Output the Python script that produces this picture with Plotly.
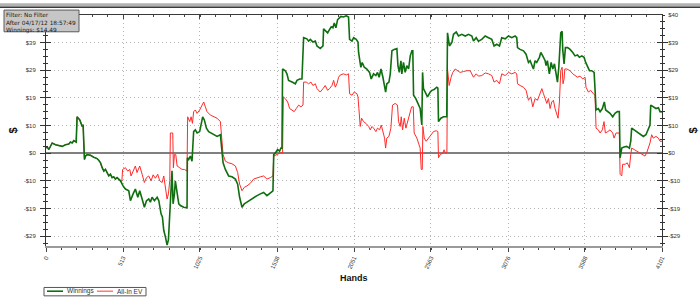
import plotly.graph_objects as go

# ---------------- data ----------------
win_hands = [0, 8, 19, 41, 63, 85, 108, 130, 152, 163, 174, 185, 201, 207, 225, 241, 247, 256, 263, 274,
             296, 318, 340, 351, 363, 374, 385, 396, 407, 418, 429, 440, 451, 462, 473, 496, 513, 529, 551, 562,
             580, 595, 611, 624, 640, 655, 669, 684, 695, 706, 722, 740, 751, 766, 775, 784, 795, 806, 815, 824,
             833, 839, 846, 855, 861, 873, 884, 895, 917, 939, 941, 950, 961, 972, 983, 994, 1006, 1023, 1034, 1043,
             1054, 1068, 1083, 1099, 1116, 1139, 1161, 1172, 1179, 1194, 1216, 1238, 1261, 1276, 1289, 1305, 1320, 1338, 1360, 1382,
             1405, 1427, 1449, 1471, 1493, 1511, 1516, 1527, 1542, 1555, 1564, 1571,
             1575, 1593, 1604, 1615, 1638, 1660, 1671, 1689, 1704, 1715, 1737, 1748, 1760, 1777, 1793, 1804, 1826, 1844, 1848, 1866,
             1875, 1888, 1899, 1910, 1919, 1930, 1941, 1952, 1963, 1981, 1999, 2014, 2021, 2037, 2048, 2065, 2077, 2081, 2088, 2096,
             2105, 2119, 2136, 2154, 2165, 2181, 2196, 2207, 2218, 2230, 2243, 2252, 2261, 2269, 2283, 2292, 2303, 2318, 2336, 2343,
             2352, 2363, 2369, 2380, 2391, 2402, 2414, 2425, 2436, 2442, 2447, 2462, 2480, 2491, 2502, 2507, 2513, 2524, 2540, 2558,
             2569, 2584, 2602, 2609, 2613, 2629, 2646, 2668,
             2673, 2686, 2702, 2713, 2731, 2746, 2768, 2791, 2813, 2835, 2846, 2864, 2879, 2901, 2924, 2946, 2968, 2983, 3001, 3019,
             3034, 3057, 3079, 3101, 3123, 3134, 3139, 3156, 3179, 3196, 3212, 3223, 3234, 3245, 3256, 3267, 3285, 3294, 3307, 3323,
             3329, 3338, 3351, 3363, 3374, 3385, 3396, 3405, 3414, 3427, 3436, 3440, 3449, 3458, 3473, 3489, 3507, 3522, 3538, 3551,
             3567, 3582, 3593, 3604, 3618, 3633, 3649, 3655, 3662, 3677, 3689, 3704, 3717, 3726, 3740, 3755, 3773, 3788, 3804, 3817,
             3822, 3833, 3848, 3866, 3884, 3893, 3899, 3915, 3932, 3955, 3977, 3994, 4010, 4021, 4026, 4043, 4061, 4077, 4088, 4101]
win_values = [1.9, 2.2, 1.3, 3.6, 3.0, 2.6, 2.4, 3.0, 3.2, 3.9, 3.6, 4.4, 3.9, 12.8, 11.7, 9.4, 10.0, -2.2, -1.0, -0.5,
              -0.7, -1.4, -1.9, -2.5, -3.4, -5.1, -6.3, -5.7, -6.8, -8.0, -7.4, -8.6, -8.3, -9.1, -8.6, -9.7, -11.5, -12.6, -13.2, -16.7,
              -14.3, -12.6, -15.5, -13.2, -16.1, -19.0, -16.7, -16.1, -17.2, -15.5, -16.7, -15.5, -16.7, -21.3, -22.4, -27.1, -29.4, -32.3, -30.5, -21.3,
              -9.7, -6.2, -17.8, -14.3, -9.7, -13.2, -17.8, -18.4, -19.0, -19.2, -1.6, -2.2, -1.0, -2.8, 7.6, 8.2, 7.1, 7.6, 9.9, 12.8,
              11.7, 8.8, 7.6, 7.1, 6.5, 5.9, 6.5, 0.7, -3.4, -5.7, -8.0, -8.3, -9.1, -10.9, -15.5, -19.0, -17.8, -17.2, -16.4, -15.5,
              -14.9, -14.3, -13.8, -14.9, -13.8, -13.2, -0.5, 0.1, 1.3, 0.7, 1.8, 1.8,
              29.6, 29.0, 27.9, 25.6, 25.0, 24.4, 25.6, 26.1, 26.1, 40.6, 40.2, 39.4, 40.0, 39.1, 39.4, 37.7, 36.8, 37.7, 43.7, 42.9,
              42.3, 43.5, 44.4, 44.1, 45.8, 44.1, 46.9, 47.5, 48.1, 47.9, 48.3, 47.9, 40.0, 39.4, 40.6, 40.0, 39.1, 35.4, 33.1, 30.2,
              31.9, 30.2, 29.6, 28.4, 26.1, 27.9, 27.3, 28.4, 26.7, 29.6, 26.7, 24.4, 21.5, 24.4, 25.0, 27.9, 36.0, 36.5, 36.8, 30.8,
              28.4, 32.5, 27.9, 31.9, 28.4, 30.8, 29.6, 34.2, 36.0, 36.0, 20.4, 19.2, 16.9, 15.7, 9.9, 28.4, 22.7, 21.5, 19.8, 21.5,
              22.1, 22.4, 23.2, 22.9, 11.1, 12.3, 12.8, 12.8,
              42.3, 37.7, 38.9, 41.8, 42.6, 41.2, 41.8, 41.2, 41.8, 41.2, 39.4, 40.6, 39.4, 40.0, 41.2, 40.6, 40.0, 37.7, 38.3, 37.7,
              40.6, 40.2, 41.2, 40.6, 41.2, 40.6, 37.1, 36.5, 36.0, 34.8, 31.9, 32.5, 30.8, 29.6, 32.5, 31.9, 33.7, 35.4, 34.2, 32.5,
              30.8, 32.5, 27.9, 31.9, 29.6, 31.4, 27.9, 25.0, 30.2, 42.3, 42.9, 36.5, 31.4, 37.1, 37.1, 36.5, 35.4, 34.2, 34.5, 33.7,
              34.2, 33.7, 31.9, 30.8, 29.0, 29.0, 28.4, 22.7, 15.2, 15.7, 14.6, 15.7, 18.0, 15.2, 14.6, 14.0, 12.8, 14.0, 14.6, 14.6,
              -1.6, 1.8, 2.2, 2.4, 1.8, 4.2, 8.8, 8.2, 7.6, 6.5, 5.9, 6.5, 8.2, 9.9, 16.9, 16.3, 15.7, 16.0, 14.6, 14.49]

ev_hands = [0, 8, 19, 41, 63, 85, 108, 130, 152, 163, 174, 185, 201, 207, 225, 241, 247, 256, 263, 274,
            296, 318, 340, 351, 363, 374, 385, 396, 407, 418, 429, 440, 451, 462, 473, 496, 505, 510, 529, 544,
            558, 566, 580, 595, 606, 624, 640, 655, 669, 684, 700, 713, 728, 744, 757, 773, 784, 795, 806, 815,
            824, 828, 844, 848, 855, 864, 873, 890, 906, 921, 939, 943, 957, 966, 975, 983, 994, 1006, 1023, 1039,
            1050, 1061, 1072, 1094, 1116, 1139, 1161, 1172, 1179, 1194, 1216, 1238, 1261, 1276, 1289, 1305, 1320, 1338, 1360, 1382,
            1405, 1427, 1449, 1471, 1493, 1511, 1516, 1538, 1560, 1575, 1580, 1593, 1609, 1622, 1638, 1653, 1666, 1682, 1697, 1711,
            1715, 1733, 1748, 1764, 1777, 1793, 1804, 1826, 1844, 1859, 1875, 1888, 1904, 1915, 1926, 1937, 1948, 1959, 1981, 1999,
            2014, 2021, 2037, 2052, 2070, 2077, 2083, 2092, 2101, 2114, 2130, 2148, 2159, 2170, 2181, 2196, 2207, 2221, 2232, 2243,
            2254, 2261, 2269, 2283, 2296, 2307, 2325, 2340, 2347, 2358, 2365, 2374, 2385, 2396, 2407, 2420, 2434, 2445, 2451, 2469,
            2482, 2491, 2498, 2505, 2509, 2518, 2531, 2547, 2562, 2580, 2598, 2609, 2613, 2624, 2642, 2650, 2658, 2669,
            2673, 2684, 2697, 2708, 2724, 2740, 2757, 2779, 2802, 2824, 2846, 2864, 2879, 2901, 2924, 2946, 2968, 2983, 3001, 3019,
            3034, 3057, 3079, 3101, 3123, 3134, 3139, 3156, 3179, 3196, 3212, 3227, 3241, 3256, 3272, 3285, 3301, 3312, 3323, 3334,
            3345, 3356, 3367, 3378, 3389, 3400, 3409, 3418, 3427, 3436, 3442, 3449, 3454, 3467, 3489, 3507, 3522, 3538, 3555, 3573,
            3589, 3595, 3611, 3626, 3644, 3655, 3662, 3677, 3689, 3704, 3715, 3724, 3740, 3755, 3773, 3782, 3795, 3817, 3822, 3833,
            3839, 3855, 3870, 3884, 3893, 3899, 3915, 3932, 3955, 3972, 3988, 3999, 4010, 4021, 4032, 4043, 4061, 4077, 4088, 4101]
ev_values = [1.9, 2.2, 1.3, 3.6, 3.0, 2.6, 2.4, 3.0, 3.2, 3.9, 3.6, 4.4, 3.9, 12.8, 11.7, 9.4, 10.0, -2.2, -1.0, -0.5,
             -0.7, -1.4, -1.9, -2.5, -3.4, -5.1, -6.3, -5.7, -6.8, -8.0, -7.4, -8.6, -8.3, -9.1, -8.6, -9.7, -9.9, -5.7, -5.1, -6.3,
             -5.7, -8.0, -6.3, -4.5, -6.8, -4.5, -7.4, -10.3, -8.6, -8.0, -9.7, -7.6, -8.8, -7.4, -9.7, -10.3, -8.0, -13.2, -16.1, -14.3,
             -9.7, 7.1, 7.1, -5.1, -0.5, -0.5, -4.5, -5.1, -5.7, -5.7, -6.3, 12.8, 11.1, 12.8, 10.5, 14.6, 15.2, 14.0, 15.2, 16.9,
             18.0, 16.3, 14.6, 13.4, 12.8, 12.3, 11.1, 4.2, -0.5, -2.8, -3.4, -3.7, -4.5, -6.8, -10.9, -13.2, -12.0, -11.5, -10.6, -9.1,
             -8.6, -8.3, -8.0, -9.1, -8.6, -8.0, -1.0, -0.5, 0.1, 0.1, 19.8, 19.2, 18.0, 15.7, 15.2, 14.6, 15.7, 16.9, 16.3, 16.9,
             25.0, 25.0, 24.4, 25.0, 23.8, 24.4, 22.7, 21.5, 22.7, 23.8, 22.1, 22.7, 23.8, 25.6, 23.2, 24.4, 26.7, 27.5, 27.9, 27.5,
             27.9, 20.9, 20.4, 21.5, 20.9, 19.8, 15.7, 9.4, 12.3, 11.1, 10.5, 9.4, 8.2, 9.4, 8.8, 7.6, 8.8, 8.2, 9.9, 7.1,
             5.3, 1.8, 5.3, 5.9, 8.8, 16.9, 17.5, 16.9, 11.1, 9.4, 12.8, 8.2, 12.3, 8.8, 11.1, 13.4, 16.3, 16.3, 7.1, 5.3,
             3.0, 1.8, -5.7, -5.7, 9.4, 5.3, 4.2, 5.3, 6.5, 7.6, 7.9, 7.6, -1.6, -0.5, 0.1, 1.2, 0.1, 0.1,
             29.6, 23.8, 26.7, 28.4, 29.6, 29.0, 28.4, 28.7, 29.0, 29.0, 26.7, 27.9, 27.1, 27.3, 28.2, 27.9, 27.3, 25.0, 25.6, 24.4,
             27.9, 27.3, 28.4, 27.9, 28.4, 27.9, 24.4, 23.8, 23.2, 22.1, 18.6, 19.8, 16.3, 19.2, 18.6, 20.4, 22.7, 20.9, 19.2, 17.5,
             19.2, 15.7, 18.0, 18.6, 15.7, 14.0, 12.3, 18.0, 29.0, 30.2, 24.4, 26.1, 29.6, 29.6, 29.0, 27.9, 27.3, 26.7, 27.1, 26.1,
             26.7, 23.2, 21.5, 22.1, 20.9, 20.4, 8.8, 8.2, 7.1, 8.2, 11.1, 7.1, 7.6, 8.2, 7.1, 5.3, 7.1, 7.1, -7.4, -8.0,
             -3.9, -3.9, -3.4, -5.1, -0.5, 1.8, 1.3, 0.7, 0.1, -0.5, -1.0, 0.1, 1.8, 3.6, 6.5, 5.3, 5.9, 5.3, 4.2, 4.2]

x_tick_vals = [0, 513, 1025, 1538, 2051, 2563, 3076, 3588, 4101]
x_tick_text = ["0", "513", "1025", "1538", "2051", "2563", "3076", "3588", "4101"]
y_tick_vals = [-29.14, -19.43, -9.71, 0, 9.71, 19.43, 29.14, 38.86, 48.57]
y_tick_text = ["-$29", "-$19", "-$10", "$0", "$10", "$19", "$29", "$39", "$40"]
info_lines = ["Filter: No Filter", "After 04/17/12 18:57:49", "Winnings: $14.49"]
series_names = ["Winnings", "All-In EV"]

# ---------------- layout geometry (pixels) ----------------
W, H = 700, 297
L, R, T, B = 46, 662, 12, 246


def px(x):
    return (x - L) / (R - L)


def py(y):
    return (B - y) / (B - T)


GREEN = "#0f6e0f"
RED = "#ff2a2a"
FONT = "Liberation Sans"
GRID = "#b4b4b4"

fig = go.Figure()
fig.add_trace(go.Scatter(x=ev_hands, y=ev_values, mode="lines", name=series_names[1],
                         line=dict(color=RED, width=1), showlegend=False))
fig.add_trace(go.Scatter(x=win_hands, y=win_values, mode="lines", name=series_names[0],
                         line=dict(color=GREEN, width=1.6), showlegend=False))
# helper trace so the secondary axes are drawn
fig.add_trace(go.Scatter(x=[win_hands[0]], y=[win_values[0]], xaxis="x2", yaxis="y2", mode="markers",
                         marker=dict(opacity=0), hoverinfo="skip", showlegend=False))

xr = [0, 4101]
yr = [-32.62, 48.58]
tickfont = dict(family=FONT, size=6, color="#333333")

fig.update_layout(
    width=W, height=H,
    margin=dict(l=L, r=W - R, t=T, b=H - B, pad=0),
    paper_bgcolor="white", plot_bgcolor="white",
    font=dict(family=FONT, size=7, color="#222"),
    xaxis=dict(range=xr, tickmode="array", tickvals=x_tick_vals, ticktext=x_tick_text,
               tickangle=-65, tickfont=tickfont, ticks="outside", ticklen=4, tickcolor="#444",
               showline=True, linecolor="#9a9a9a", linewidth=2, mirror=False,
               showgrid=True, gridcolor=GRID, griddash="1px,3px", gridwidth=1, zeroline=False,
               minor=dict(tickmode="linear", tick0=0, dtick=4101 / 40, ticks="outside", ticklen=2,
                          tickcolor="#444", showgrid=False)),
    xaxis2=dict(overlaying="x", side="top", range=xr, tickmode="array", tickvals=x_tick_vals,
                showticklabels=False, ticks="inside", ticklen=4, tickcolor="#444",
                showline=True, linecolor="#3a3a3a", linewidth=1, showgrid=False, zeroline=False,
                minor=dict(tickmode="linear", tick0=0, dtick=4101 / 40, ticks="inside", ticklen=2,
                           tickcolor="#444", showgrid=False)),
    # left axis: the top label is hidden under the info box in the original, so it is left out
    yaxis=dict(range=yr, tickmode="array", tickvals=y_tick_vals[:-1], ticktext=y_tick_text[:-1],
               tickfont=tickfont, ticks="outside", ticklen=5, tickcolor="#333", ticklabelstandoff=3,
               showline=True, linecolor="#333", linewidth=1, mirror="ticks",
               showgrid=True, gridcolor=GRID, griddash="1px,3px", gridwidth=1,
               zeroline=True, zerolinecolor="#808080", zerolinewidth=1.6,
               minor=dict(tickmode="linear", tick0=0, dtick=9.714 / 4, ticks="outside", ticklen=2,
                          tickcolor="#333", showgrid=False)),
    yaxis2=dict(overlaying="y", side="right", range=yr, tickmode="array", tickvals=y_tick_vals,
                ticktext=y_tick_text, tickfont=tickfont, ticks="inside", ticklen=5, tickcolor="#333",
                ticklabelstandoff=4, showline=True, linecolor="#333", linewidth=1, mirror="ticks",
                showgrid=False, zeroline=False,
                minor=dict(tickmode="linear", tick0=0, dtick=9.714 / 4, ticks="inside", ticklen=2,
                           tickcolor="#333", showgrid=False)),
)

shapes = []
# window frame at the top
shapes.append(dict(type="rect", xref="paper", yref="paper", x0=px(0), x1=px(W), y0=py(0), y1=py(3.3),
                   fillcolor="#b2b2b2", line=dict(width=0), layer="above"))
shapes.append(dict(type="rect", xref="paper", yref="paper", x0=px(0), x1=px(W), y0=py(3.3), y1=py(5),
                   fillcolor="#3a3a3a", line=dict(width=0), layer="above"))
# info box
shapes.append(dict(type="rect", xref="paper", yref="paper", x0=px(4), x1=px(79), y0=py(29), y1=py(7),
                   fillcolor="#c6c6c6", line=dict(color="#5a5a5a", width=1), layer="above"))
# legend box
shapes.append(dict(type="rect", xref="paper", yref="paper", x0=px(44), x1=px(146), y0=py(296.5), y1=py(288),
                   fillcolor="white", line=dict(color="#555", width=1), layer="above"))
shapes.append(dict(type="line", xref="paper", yref="paper", x0=px(47), x1=px(63), y0=py(291.8), y1=py(291.8),
                   line=dict(color=GREEN, width=1.6), layer="above"))
shapes.append(dict(type="line", xref="paper", yref="paper", x0=px(97), x1=px(113), y0=py(291.8), y1=py(291.8),
                   line=dict(color="#ff7070", width=1.4), layer="above"))
fig.update_layout(shapes=shapes)

ann = []
ann.append(dict(text="<br>".join(info_lines), xref="paper", yref="paper", x=px(5), y=py(7.5),
                xanchor="left", yanchor="top", align="left", showarrow=False, borderpad=0,
                font=dict(family="DejaVu Sans", size=5.8, color="#1a1a1a")))
ann.append(dict(text=series_names[0], xref="paper", yref="paper", x=px(65), y=py(292), xanchor="left",
                yanchor="middle", showarrow=False, font=dict(family=FONT, size=6.5, color="#333")))
ann.append(dict(text=series_names[1], xref="paper", yref="paper", x=px(115), y=py(292), xanchor="left",
                yanchor="middle", showarrow=False, font=dict(family=FONT, size=6.5, color="#333")))
ann.append(dict(text="<b>Hands</b>", xref="paper", yref="paper", x=0.5, y=py(278), xanchor="center",
                yanchor="middle", showarrow=False, font=dict(family=FONT, size=9, color="#111")))
ann.append(dict(text="<b>$</b>", xref="paper", yref="paper", x=px(12), y=py(129), xanchor="center",
                yanchor="middle", showarrow=False, textangle=-90, font=dict(family=FONT, size=11, color="#111")))
ann.append(dict(text="<b>$</b>", xref="paper", yref="paper", x=px(692), y=py(129), xanchor="center",
                yanchor="middle", showarrow=False, textangle=-90, font=dict(family=FONT, size=11, color="#111")))
fig.update_layout(annotations=ann)

fig.write_html("out.html")
